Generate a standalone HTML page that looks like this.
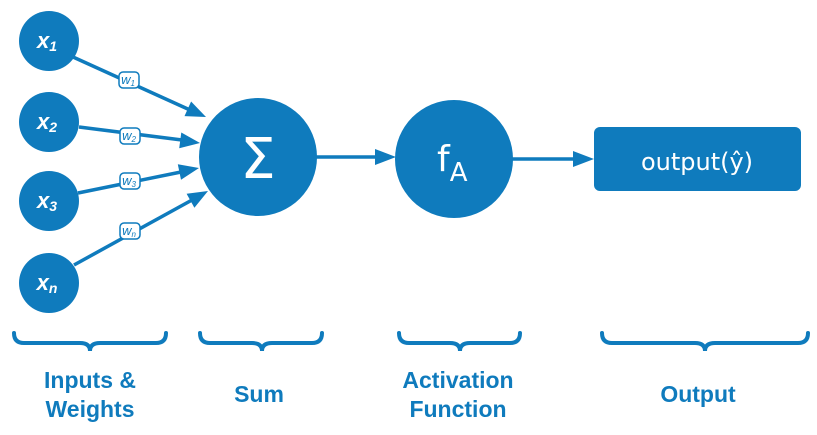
<!DOCTYPE html>
<html><head><meta charset="utf-8"><style>
html,body{margin:0;padding:0;background:#fff;}
svg{display:block;}
</style></head><body>
<svg width="817" height="435" viewBox="0 0 817 435" xmlns="http://www.w3.org/2000/svg">
<g stroke="#0f7bbd" stroke-width="3.5" fill="none">
<line x1="73" y1="57" x2="190" y2="110"/>
<line x1="79" y1="127" x2="182" y2="140"/>
<line x1="78" y1="193" x2="181" y2="172"/>
<line x1="74" y1="265" x2="192" y2="200"/>
<line x1="316" y1="157" x2="378" y2="157"/>
<line x1="512" y1="159" x2="576" y2="159"/>
</g>
<g fill="#0f7bbd">
<polygon points="206,117 184.5,116.1 191.1,101.5"/>
<polygon points="200,143 179.2,148.3 181.3,132.5"/>
<polygon points="199,168 181,179.8 177.8,164.2"/>
<polygon points="208,191 194.4,207.7 186.6,193.7"/>
<polygon points="396,157 375,149 375,165"/>
<polygon points="594,159 573,151 573,167"/>
<circle cx="49" cy="41" r="30"/>
<circle cx="49" cy="122" r="30"/>
<circle cx="49" cy="201" r="30"/>
<circle cx="49" cy="283" r="30"/>
<circle cx="258" cy="157" r="59"/>
<circle cx="454" cy="159" r="59"/>
<rect x="594" y="127" width="207" height="64" rx="6"/>
</g>
<g fill="#fff" stroke="#0f7bbd" stroke-width="1.5">
<rect x="119" y="72" width="20" height="16" rx="4"/>
<rect x="120" y="128" width="20" height="16" rx="4"/>
<rect x="120" y="173" width="20" height="16" rx="4"/>
<rect x="120" y="223" width="20" height="16" rx="4"/>
</g>
<g font-family="Liberation Sans, sans-serif" font-style="italic" font-size="13" fill="#0f7bbd" text-anchor="middle">
<text x="128" y="84">w<tspan font-size="8" dy="2">1</tspan></text>
<text x="129" y="140">w<tspan font-size="8" dy="2">2</tspan></text>
<text x="129" y="185">w<tspan font-size="8" dy="2">3</tspan></text>
<text x="129" y="235">w<tspan font-size="8" dy="2">n</tspan></text>
</g>
<g font-family="Liberation Sans, sans-serif" font-style="italic" font-weight="bold" font-size="22" fill="#fff" text-anchor="middle">
<text x="47" y="48">x<tspan font-size="14" dy="3">1</tspan></text>
<text x="47" y="129">x<tspan font-size="14" dy="3">2</tspan></text>
<text x="47" y="208">x<tspan font-size="14" dy="3">3</tspan></text>
<text x="47" y="290">x<tspan font-size="14" dy="3">n</tspan></text>
</g>
<text x="258" y="178" font-family="DejaVu Sans, sans-serif" font-size="56" fill="#fff" text-anchor="middle">Σ</text>
<text x="437" y="171" font-family="DejaVu Sans, sans-serif" font-size="36" fill="#fff">f<tspan font-size="26" dy="10">A</tspan></text>
<text x="697" y="170" font-family="DejaVu Sans, sans-serif" font-size="24" fill="#fff" text-anchor="middle">output(ŷ)</text>
<g stroke="#0f7bbd" stroke-width="4" fill="none" stroke-linecap="round">
<path d="M14,333 Q14,343 24,343 L80,343 Q90,343 90,351 Q90,343 100,343 L156,343 Q166,343 166,333"/>
<path d="M200,333 Q200,343 210,343 L252,343 Q262,343 262,351 Q262,343 272,343 L312,343 Q322,343 322,333"/>
<path d="M399,333 Q399,343 409,343 L450,343 Q460,343 460,351 Q460,343 470,343 L510,343 Q520,343 520,333"/>
<path d="M602,333 Q602,343 612,343 L695,343 Q705,343 705,351 Q705,343 715,343 L798,343 Q808,343 808,333"/>
</g>
<g font-family="Liberation Sans Narrow, Liberation Sans, sans-serif" font-weight="bold" font-size="23" fill="#0f7bbd" text-anchor="middle">
<text x="90" y="388">Inputs &amp;</text>
<text x="90" y="417">Weights</text>
<text x="259" y="402">Sum</text>
<text x="458" y="388">Activation</text>
<text x="458" y="417">Function</text>
<text x="698" y="402">Output</text>
</g>
</svg>
</body></html>
